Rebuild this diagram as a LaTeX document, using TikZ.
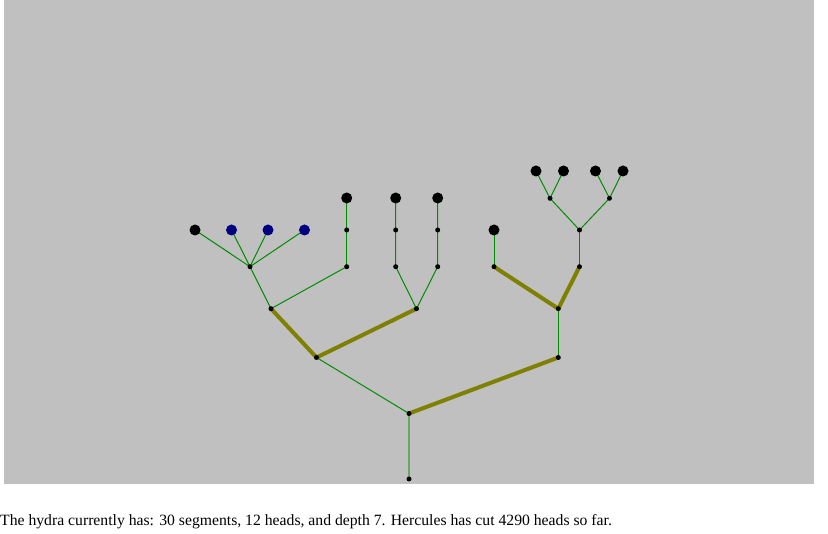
\documentclass[tikz,border=0pt]{standalone}
\usepackage{fontspec}
\setmainfont{Liberation Serif}
\begin{document}
\begin{tikzpicture}[x=1pt,y=-1pt,
  seg/.style={draw={rgb,255:red,0;green,140;blue,0},line width=1pt},
  fat/.style={draw={rgb,255:red,128;green,128;blue,0},line width=4pt},
  stem/.style={draw={rgb,255:red,100;green,170;blue,100},line width=2pt},
  joint/.style={circle,fill=black,inner sep=0pt,minimum size=5pt},
  head/.style={circle,fill=black,inner sep=0pt,minimum size=11pt},
  bhead/.style={circle,fill={rgb,255:red,0;green,0;blue,128},inner sep=0pt,minimum size=11pt}]
\useasboundingbox (0,0) rectangle (828,534);
\fill[fill={rgb,255:red,192;green,192;blue,192}] (4,0) rectangle (814,484);
% coordinates
\coordinate (r) at (409,479);
\coordinate (A) at (409,413.5);
\coordinate (B) at (316.5,357.5);
\coordinate (C) at (558.3,357.5);
\coordinate (D) at (271,308.7);
\coordinate (E) at (416.5,308.7);
\coordinate (F) at (558.3,308.7);
\coordinate (G) at (250,266.7);
\coordinate (H) at (346.7,266.7);
\coordinate (H1) at (346.7,230);
\coordinate (Hh) at (346.7,198);
\coordinate (g1) at (195,230);
\coordinate (g2) at (231.5,230);
\coordinate (g3) at (268,230);
\coordinate (g4) at (304.5,230);
\coordinate (E1) at (395.7,266.7);
\coordinate (E2) at (437.7,266.7);
\coordinate (E1a) at (395.7,230);
\coordinate (E2a) at (437.7,230);
\coordinate (E1h) at (395.7,198);
\coordinate (E2h) at (437.7,198);
\coordinate (F1) at (494,266.7);
\coordinate (F1h) at (494,230);
\coordinate (F2) at (579.5,266.7);
\coordinate (F2a) at (579.5,230);
\coordinate (K1) at (550,198.3);
\coordinate (K2) at (609.5,198.3);
\coordinate (k1) at (536,171);
\coordinate (k2) at (563.5,171);
\coordinate (k3) at (595.5,171);
\coordinate (k4) at (623,171);
% edges
\draw[stem] (r) -- (A);
\draw[seg] (A) -- (B);
\draw[fat] (A) -- (C);
\draw[fat] (B) -- (D);
\draw[fat] (B) -- (E);
\draw[seg] (C) -- (F);
\draw[seg] (D) -- (G);
\draw[seg] (D) -- (H);
\draw[seg] (G) -- (g1);
\draw[seg] (G) -- (g2);
\draw[seg] (G) -- (g3);
\draw[seg] (G) -- (g4);
\draw[seg] (H) -- (H1) -- (Hh);
\draw[seg] (E) -- (E1) -- (E1a) -- (E1h);
\draw[seg] (E) -- (E2) -- (E2a) -- (E2h);
\draw[fat] (F) -- (F1);
\draw[fat] (F) -- (F2);
\draw[seg] (F1) -- (F1h);
\draw[seg] (F2) -- (F2a);
\draw[seg] (F2a) -- (K1);
\draw[seg] (F2a) -- (K2);
\draw[seg] (K1) -- (k1);
\draw[seg] (K1) -- (k2);
\draw[seg] (K2) -- (k3);
\draw[seg] (K2) -- (k4);
% dots
\foreach \p in {r,A,B,C,D,E,F,G,H,H1,E1,E2,E1a,E2a,F1,F2,F2a,K1,K2}
  \node[joint] (n\p) at (\p) {};
\foreach \p in {g1,Hh,E1h,E2h,F1h,k1,k2,k3,k4}
  \node[head] (n\p) at (\p) {};
\foreach \p in {g2,g3,g4}
  \node[bhead] (n\p) at (\p) {};
\node[anchor=base west,inner sep=0pt,font=\fontsize{15.7}{19}\selectfont] (caption) at (0,526) {The hydra currently has: 30 segments, 12 heads, and depth 7. Hercules has cut 4290 heads so far.};
\end{tikzpicture}
\end{document}
